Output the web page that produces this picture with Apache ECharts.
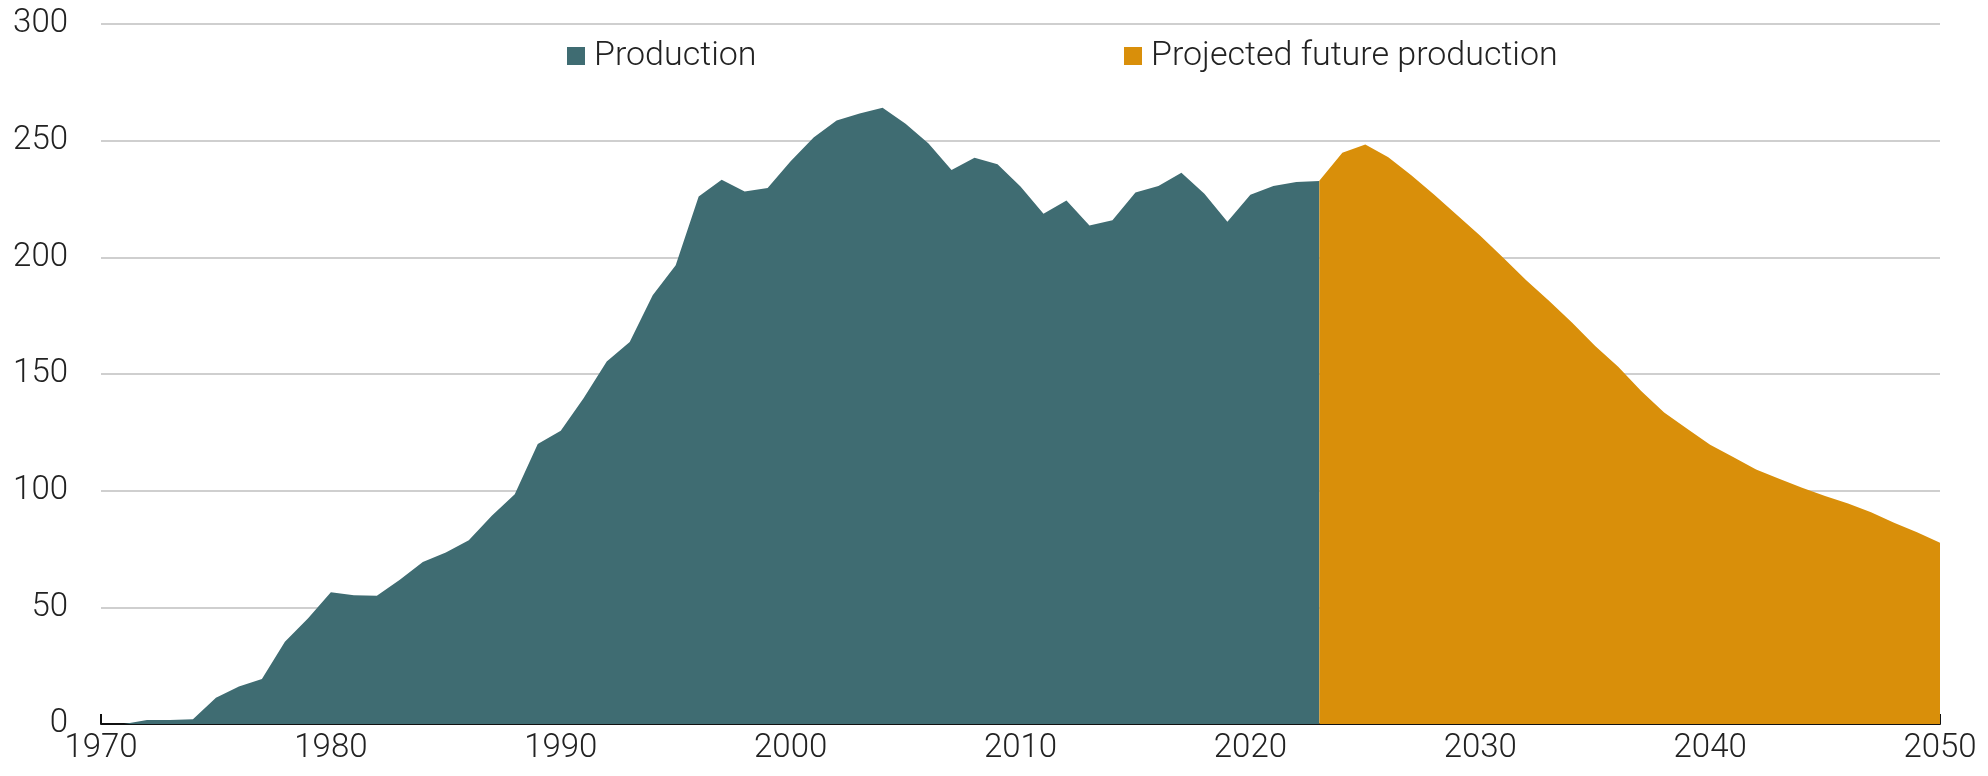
<!DOCTYPE html>
<html>
<head>
<meta charset="utf-8">
<title>Production</title>
<script src="https://cdn.jsdelivr.net/npm/echarts@6/dist/echarts.min.js"></script>
<style>
	html, body { margin: 0; padding: 0; background: #fff; }
	#main { width: 1988px; height: 776px; }
</style>
</head>
<body>
<div id="main"></div>
<script>
'use strict';

// historical production, 1970-2023
var histStart = 1970;
var histValues = [
	0, 0, 1.7, 1.7, 2, 11.3, 16.1, 19.3, 35.2, 45.2,
	56.5, 55.2, 55, 61.8, 69.4, 73.5, 78.8, 89.2, 98.5, 120,
	125.7, 139.7, 155.4, 163.7, 183.7, 196.6, 226.1, 233.3, 228.2, 229.7,
	241.2, 251.4, 258.6, 261.6, 264.1, 257.3, 248.8, 237.4, 242.7, 239.9,
	230.4, 218.7, 224.4, 213.6, 215.9, 227.8, 230.6, 236.3, 227.2, 215.3,
	226.8, 230.6, 232.3, 232.7
];

// projected production, 2023-2050
var projStart = 2023;
var projValues = [
	232.8, 244.8, 248.4, 242.9, 235.2, 226.8, 218, 209.3, 199.8, 190.2,
	181.3, 172, 162, 153.1, 142.7, 133.5, 126.5, 119.7, 114.4, 109.1,
	105.1, 101.3, 97.7, 94.5, 90.7, 86.2, 82.2, 77.7
];

var xLabels = [1970, 1980, 1990, 2000, 2010, 2020, 2030, 2040, 2050];

function toPairs(start, values) {
	var out = [];
	for (var i = 0; i < values.length; i++) {
		out.push([start + i, values[i]]);
	}
	return out;
}

var teal = '#3f6c72';
var orange = '#d98f0a';
var font = 'Roboto';

var chart = echarts.init(document.getElementById('main'));

var legendText = {
	fontFamily : font,
	fontWeight : 300,
	fontSize : 34,
	color : '#222',
	padding : [ 0, 0, 0, 4 ]
};

chart.setOption({
	animation : false,
	grid : {
		left : 101,
		right : 48,
		top : 24,
		bottom : 52
	},
	legend : [ {
		data : [ 'Production' ],
		left : 562,
		top : 34,
		icon : 'rect',
		itemWidth : 18,
		itemHeight : 18,
		textStyle : legendText
	}, {
		data : [ 'Projected future production' ],
		left : 1119,
		top : 34,
		icon : 'rect',
		itemWidth : 18,
		itemHeight : 18,
		textStyle : legendText
	} ],
	xAxis : {
		type : 'value',
		min : 1970,
		max : 2050,
		interval : 5,
		splitLine : { show : false },
		axisLine : {
			lineStyle : { color : '#111', width : 2 }
		},
		axisTick : {
			inside : true,
			length : 10,
			lineStyle : { color : '#111', width : 2 }
		},
		axisLabel : {
			margin : 8,
			fontFamily : font,
			fontWeight : 300,
			fontSize : 33,
			color : '#222',
			formatter : function(v) {
				return xLabels.indexOf(v) >= 0 ? String(v) : '';
			}
		}
	},
	yAxis : {
		type : 'value',
		min : 0,
		max : 300,
		interval : 50,
		axisLine : { show : false },
		axisTick : { show : false },
		splitLine : {
			lineStyle : { color : '#cfcfcf', width : 2 }
		},
		axisLabel : {
			margin : 33,
			fontFamily : font,
			fontWeight : 300,
			fontSize : 33,
			color : '#222'
		}
	},
	series : [ {
		name : 'Production',
		type : 'line',
		data : toPairs(histStart, histValues),
		showSymbol : false,
		itemStyle : { color : teal },
		lineStyle : { width : 0, color : teal },
		areaStyle : { color : teal, opacity : 1 },
		z : 2
	}, {
		name : 'Projected future production',
		type : 'line',
		data : toPairs(projStart, projValues),
		showSymbol : false,
		itemStyle : { color : orange },
		lineStyle : { width : 0, color : orange },
		areaStyle : { color : orange, opacity : 1 },
		z : 2
	} ]
});
</script>
</body>
</html>
